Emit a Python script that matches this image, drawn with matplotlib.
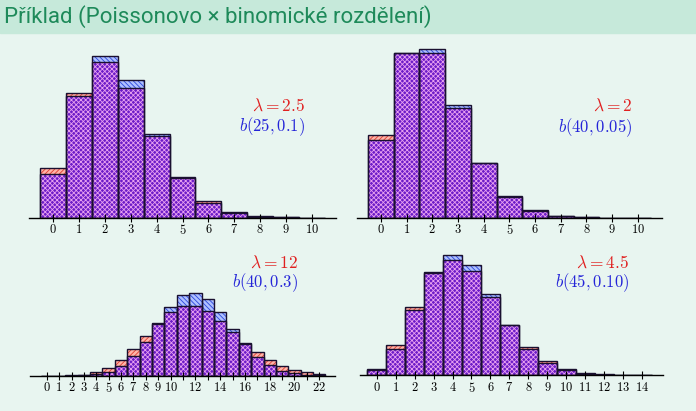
import numpy as np
import matplotlib.pyplot as plt
from matplotlib.patches import Rectangle

plt.rcParams['mathtext.fontset'] = 'cm'
plt.rcParams['hatch.linewidth'] = 0.6

W, H = 696, 411

# lambda = 2.5  vs  b(25, 0.1)
k1 = list(range(11))
pois1 = [0.0821, 0.2052, 0.2565, 0.2138, 0.1336, 0.0668, 0.0278, 0.0099, 0.0031, 0.0009, 0.0002]
binom1 = [0.0718, 0.1994, 0.2659, 0.2265, 0.1384, 0.0646, 0.0239, 0.0072, 0.0018, 0.0004, 0.0001]
labels1 = [str(i) for i in k1]

# lambda = 2  vs  b(40, 0.05)
k2 = list(range(11))
pois2 = [0.1353, 0.2707, 0.2707, 0.1804, 0.0902, 0.0361, 0.0120, 0.0034, 0.0009, 0.0002, 0.0000]
binom2 = [0.1285, 0.2707, 0.2777, 0.1852, 0.0901, 0.0342, 0.0105, 0.0027, 0.0006, 0.0001, 0.0000]
labels2 = [str(i) for i in k2]

# lambda = 12  vs  b(40, 0.3)
k3 = list(range(23))
pois3 = [0.0000, 0.0001, 0.0004, 0.0018, 0.0053, 0.0127, 0.0255, 0.0437, 0.0655, 0.0874,
         0.1048, 0.1144, 0.1144, 0.1056, 0.0905, 0.0724, 0.0543, 0.0383, 0.0256, 0.0161,
         0.0097, 0.0055, 0.0030]
binom3 = [0.0000, 0.0000, 0.0001, 0.0005, 0.0020, 0.0061, 0.0152, 0.0316, 0.0558, 0.0850,
          0.1129, 0.1320, 0.1367, 0.1262, 0.1043, 0.0775, 0.0519, 0.0314, 0.0172, 0.0085,
          0.0038, 0.0016, 0.0006]
labels3 = [str(i) if (i <= 10 or i % 2 == 0) else '' for i in k3]

# lambda = 4.5  vs  b(45, 0.10)
k4 = list(range(15))
pois4 = [0.0111, 0.0500, 0.1125, 0.1687, 0.1898, 0.1708, 0.1281, 0.0824, 0.0463, 0.0232,
         0.0104, 0.0043, 0.0016, 0.0006, 0.0002]
binom4 = [0.0087, 0.0436, 0.1067, 0.1699, 0.1982, 0.1806, 0.1338, 0.0828, 0.0437, 0.0200,
          0.0080, 0.0028, 0.0009, 0.0003, 0.0001]
labels4 = [str(i) for i in k4]

BG = '#E8F5F0'
BAR = '#C6E9DA'
PURPLE = '#6C1CC8'
DOTS = '#E8A0F0'
RED_BG = '#FFB4A8'
RED = '#E03C30'
BLUE_BG = '#AFC0FF'
BLUE = '#2A46DC'


def draw_panel(left, right, axis_y, xlim, k, pois, binom, labels):
    # axes placed in pixel space so that 1 probability unit = 608 px
    ax = fig.add_axes([left / W, 1 - axis_y / H, (right - left) / W, 0.30 * 608 / H])
    k = np.array(k)
    p = np.array(pois)
    b = np.array(binom)
    low = np.minimum(p, b)
    ax.bar(k, low, width=1, color=PURPLE, hatch='xxxxxxx', edgecolor=DOTS, lw=0)
    ax.bar(k, p - low, bottom=low, width=1, color=RED_BG, hatch='///////', edgecolor=RED, lw=0)
    ax.bar(k, b - low, bottom=low, width=1, color=BLUE_BG, hatch='\\\\\\\\\\\\\\', edgecolor=BLUE, lw=0)
    ax.bar(k, p, width=1, fill=False, edgecolor='#1a1030', lw=1.0)
    ax.bar(k, b, width=1, fill=False, edgecolor='#1a1030', lw=1.0)
    ax.set_xlim(xlim)
    ax.set_ylim(0, 0.30)
    ax.set_facecolor('none')
    for s in ['top', 'left', 'right']:
        ax.spines[s].set_visible(False)
    ax.spines['bottom'].set_linewidth(1.0)
    ax.set_yticks([])
    ax.set_xticks(k)
    ax.set_xticklabels(['$%s$' % t if t else '' for t in labels], fontsize=9)
    ax.tick_params(axis='x', direction='inout', length=6, width=0.8, pad=1)
    return ax


fig = plt.figure(figsize=(W / 100, H / 100), dpi=100, facecolor=BG)
fig.add_artist(Rectangle((0, 1 - 33 / H), 1, 33 / H, transform=fig.transFigure,
                         color=BAR, zorder=0))
fig.text(4 / W, 1 - 17 / H, 'Příklad (Poissonovo × binomické rozdělení)',
         fontsize=16, color='#1E8A5A', va='center', ha='left',
         family=['Roboto', 'DejaVu Sans'])

draw_panel(29, 336, 217.7, (-0.92, 10.92), k1, pois1, binom1, labels1)
draw_panel(357, 662, 217.7, (-0.93, 10.94), k2, pois2, binom2, labels2)
draw_panel(30, 335, 375.7, (-1.35, 23.27), k3, pois3, binom3, labels3)
draw_panel(360, 663, 375.3, (-0.88, 15.1), k4, pois4, binom4, labels4)

# parameter labels (right-aligned)
params = [
    (305, 106, 127, r'$\lambda = 2.5$', r'$b(25, 0.1)$'),
    (632, 106, 128, r'$\lambda = 2$', r'$b(40, 0.05)$'),
    (298, 263, 283, r'$\lambda = 12$', r'$b(40, 0.3)$'),
    (629, 263, 283, r'$\lambda = 4.5$', r'$b(45, 0.10)$'),
]
for xr, y1, y2, lam, bn in params:
    fig.text(xr / W, 1 - y1 / H, lam, color='#E02020', fontsize=12.5, ha='right', va='center')
    fig.text(xr / W, 1 - y2 / H, bn, color='#2424D8', fontsize=12, ha='right', va='center')

fig.savefig('out.png', dpi=100, facecolor=fig.get_facecolor())
